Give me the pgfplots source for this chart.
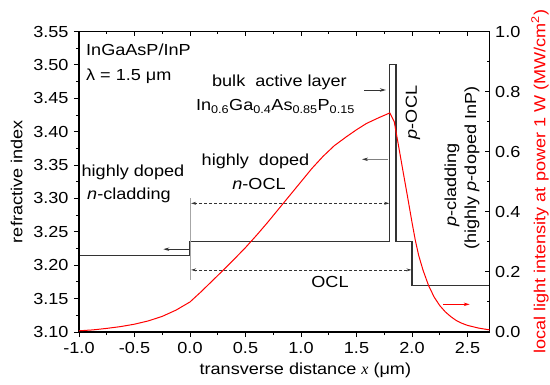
\documentclass[border=0pt]{standalone}
\usepackage{fontspec}
\setmainfont{Liberation Sans}[FakeStretch=1.13]
\newfontfamily\timesfont{Liberation Serif}
\usepackage{pgfplots}
\pgfplotsset{compat=1.18}
\usetikzlibrary{arrows.meta}
\definecolor{prof}{HTML}{333333}
\begin{document}
\fontsize{16bp}{18bp}\selectfont
\begin{tikzpicture}
\pgfplotsset{
  common/.style={
    scale only axis, width=410.7bp, height=300.5bp,
    xmin=-1, xmax=2.7,
    xtick={-1,-0.5,0,0.5,1,1.5,2,2.5}, minor x tick num=1,
    major tick length=5bp, minor tick length=3bp,
    axis line style={line width=1.1bp, black},
    every tick/.style={line width=0.9bp, black},
    /pgf/number format/assume math mode=true,
    clip=false,
  }
}
\begin{axis}[common,
  ymin=3.10, ymax=3.55,
  ytick={3.10,3.15,...,3.56}, minor y tick num=1,
  xtick pos=bottom, ytick pos=left, tick align=outside,
  xticklabel style={/pgf/number format/.cd, fixed, fixed zerofill, precision=1},
  yticklabel style={/pgf/number format/.cd, fixed, fixed zerofill, precision=2},
  xlabel={transverse distance {\timesfont\itshape x} (μm)},
  xlabel style={xshift=21bp, yshift=2bp},
  ylabel={refractive index},
]
\addplot[prof, line width=1.2bp] coordinates {(-1,3.215) (0,3.215) (0,3.235) (1.8,3.235) (1.8,3.50) (1.855,3.50) (1.855,3.235) (2.0,3.235) (2.0,3.17) (2.7,3.17)};
% annotations
\draw[gray!70, line width=0.8bp] (axis cs:0,3.178) -- (axis cs:0,3.30);
\draw[prof, line width=0.8bp, -{Stealth[length=6bp,width=3.5bp]}] (axis cs:0,3.224) -- (axis cs:-0.24,3.224);
\draw[prof, line width=0.7bp, dash pattern=on 3bp off 2bp, {Stealth[length=5bp,width=3bp]}-{Stealth[length=5bp,width=3bp]}] (axis cs:0.01,3.2927) -- (axis cs:1.795,3.2927);
\draw[prof, line width=0.7bp, dash pattern=on 3bp off 2bp, {Stealth[length=5bp,width=3bp]}-{Stealth[length=5bp,width=3bp]}] (axis cs:0.01,3.193) -- (axis cs:1.995,3.193);
\draw[gray, line width=0.8bp, -{Stealth[length=6bp,width=3.5bp,color=prof]}] (axis cs:1.785,3.3586) -- (axis cs:1.55,3.3586);
\draw[prof, line width=0.8bp, -{Stealth[length=6bp,width=3.5bp]}] (axis cs:1.57,3.4624) -- (axis cs:1.765,3.4624);
% texts
\node[anchor=base west, inner sep=0] at (axis cs:-0.937,3.5143) {InGaAsP/InP};
\node[anchor=base west, inner sep=0] at (axis cs:-0.937,3.477) {λ = 1.5 μm};
\node[anchor=base, inner sep=0] at (axis cs:0.806,3.467) {bulk\ \ active layer};
\node[anchor=base, inner sep=0] at (axis cs:0.770,3.431) {In\textsubscript{0.6}Ga\textsubscript{0.4}As\textsubscript{0.85}P\textsubscript{0.15}};
\node[anchor=base, inner sep=0] at (axis cs:0.590,3.3486) {highly\ \ doped};
\node[anchor=base, inner sep=0] at (axis cs:0.622,3.3137) {\textit{n}-OCL};
\node[anchor=base, inner sep=0] at (axis cs:-0.514,3.3326) {highly doped};
\node[anchor=base, inner sep=0] at (axis cs:-0.550,3.2977) {\textit{n}-cladding};
\node[anchor=base, inner sep=0] at (axis cs:1.261,3.1659) {OCL};
\node[rotate=90, inner sep=0] at (axis cs:2.009,3.4287) {\textit{p}-OCL};
\node[rotate=90, inner sep=0] at (axis cs:2.360,3.3201) {\textit{p}-cladding};
\node[rotate=90, inner sep=0] at (axis cs:2.541,3.3456) {(highly \textit{p}-doped InP)};
\end{axis}
\begin{axis}[common,
  ymin=0, ymax=1,
  ytick={0,0.2,...,1.01}, minor y tick num=1,
  xtick pos=top, xticklabels={},
  ytick pos=right, yticklabel pos=right, tick align=inside,
  yticklabel style={/pgf/number format/.cd, fixed, fixed zerofill, precision=1},
  ylabel near ticks,
  ylabel={local light intensity at power 1 W (MW/cm\textsuperscript{2})},
  ylabel style={red},
]
\addplot[red, line width=1bp] coordinates {
(-1.0,0.004) (-0.875,0.007) (-0.75,0.012) (-0.625,0.018) (-0.5,0.026) (-0.375,0.037)
(-0.25,0.052) (-0.125,0.073) (0.0,0.100) (0.1,0.134) (0.2,0.170) (0.3,0.206)
(0.4,0.243) (0.5,0.281) (0.6,0.322) (0.7,0.365) (0.84,0.428) (1.0,0.500)
(1.1,0.545) (1.2,0.585) (1.3,0.620) (1.41,0.650) (1.5,0.673) (1.59,0.694)
(1.7,0.713) (1.8,0.729) (1.84,0.700) (1.88,0.617) (1.92,0.533) (1.96,0.450)
(2.0,0.365) (2.03,0.305) (2.06,0.255) (2.1,0.205) (2.15,0.154) (2.2,0.116)
(2.25,0.088) (2.3,0.067) (2.35,0.051) (2.4,0.038) (2.45,0.029) (2.5,0.022)
(2.6,0.013) (2.7,0.007)};
\draw[red, line width=0.8bp, -{Stealth[length=6bp,width=3.5bp]}] (axis cs:2.28,0.092) -- (axis cs:2.52,0.092);
\end{axis}
\pgfresetboundingbox
\path ([shift={(-79bp,-53bp)}]current axis.south west) rectangle ([shift={(60.3bp,31.5bp)}]current axis.north east);
\end{tikzpicture}
\end{document}
